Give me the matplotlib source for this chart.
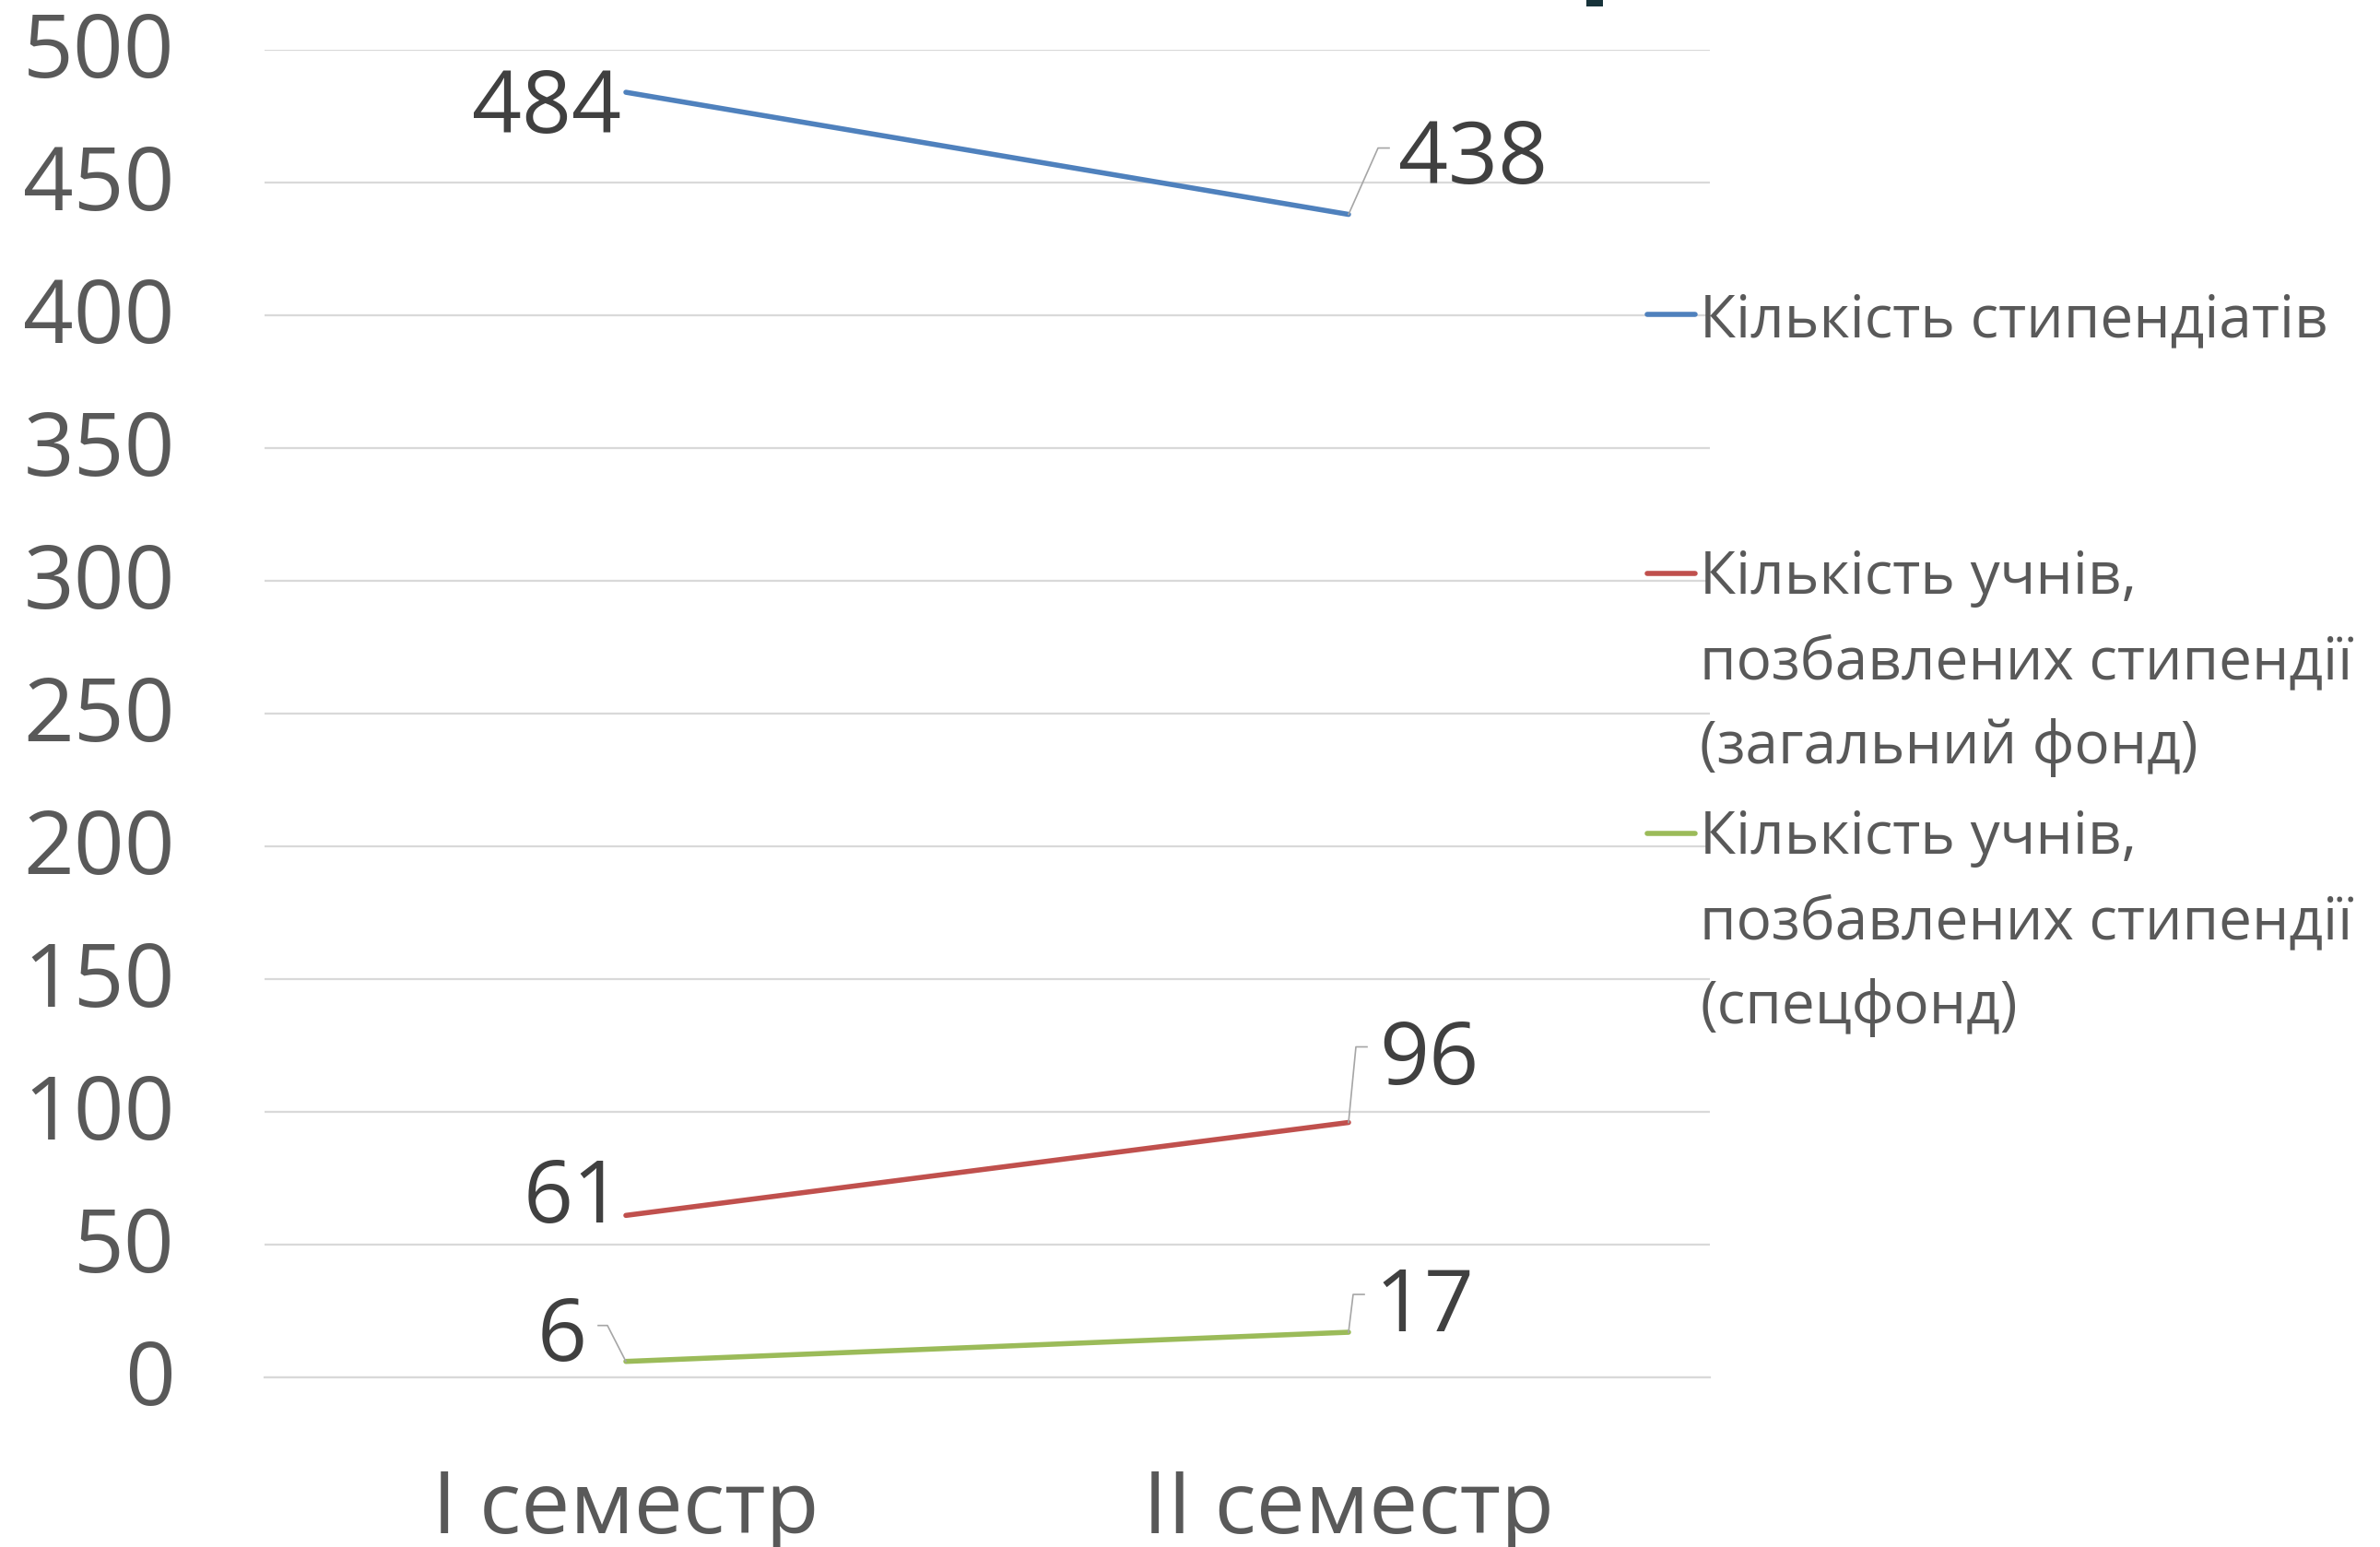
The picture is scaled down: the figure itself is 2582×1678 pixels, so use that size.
import matplotlib.pyplot as plt
from matplotlib.lines import Line2D
from matplotlib.patches import Rectangle
from matplotlib.transforms import IdentityTransform, ScaledTranslation

plt.rcParams['font.family'] = ['Open Sans', 'DejaVu Sans']

semesters = ['I семестр', 'II семестр']
series_names = ['Кількість стипендіатів',
                'Кількість учнів,\nпозбавлених стипендії\n(загальний фонд)',
                'Кількість учнів,\nпозбавлених стипендії\n(спецфонд)']
scholars = [484, 438]
deprived_general = [61, 96]
deprived_special = [6, 17]
yticks = list(range(0, 501, 50))

colors = ['#4F81BD', '#C0504D', '#9BBB59']
series = [scholars, deprived_general, deprived_special]

W, H = 2582, 1678
fig = plt.figure(figsize=(W / 100, H / 100), dpi=100)
ax = fig.add_axes([287 / W, 1 - 1494 / H, (1855 - 287) / W, (1494 - 54) / H])

x = list(range(len(semesters)))
for vals, c in zip(series, colors):
    ax.plot(x, vals, color=c, lw=4, solid_capstyle='round', clip_on=False, zorder=3)

ax.set_xlim(-0.5, 1.5)
ax.set_ylim(0, 500)
ax.set_yticks(yticks)
ax.yaxis.grid(True, color='#D9D9D9', lw=1.6)
ax.set_axisbelow(True)
for s in ['top', 'right', 'left']:
    ax.spines[s].set_visible(False)
ax.spines['bottom'].set_color('#D9D9D9')
ax.spines['bottom'].set_linewidth(1.6)
ax.tick_params(axis='y', length=0, pad=70, labelsize=69, labelcolor='#595959')
ax.tick_params(axis='x', length=0, pad=122, labelsize=68, labelcolor='#595959')
ax.set_xticks(x, semesters)
for t in ax.get_xticklabels():
    t.set_va('baseline')
up = ScaledTranslation(0, 6 / 100, fig.dpi_scale_trans)
for t in ax.get_yticklabels():
    t.set_transform(t.get_transform() + up)

# data labels: (text dx, text dy of centre, ha, leader offsets) in pixels
cap = 35
label_layout = {
    (0, 0): (-5, -9, 'right', None),
    (0, 1): (54, 69, 'left', [(0, 0), (32, 72), (44, 72)]),
    (1, 0): (-3, 27, 'right', None),
    (1, 1): (33, 77, 'left', [(0, 0), (8, 82), (20, 82)]),
    (2, 0): (-42, 36, 'right', [(0, 0), (-20, 39), (-30, 39)]),
    (2, 1): (28, 36, 'left', [(0, 0), (5, 41), (17, 41)]),
}
for si, vals in enumerate(series):
    for xi, v in zip(x, vals):
        dx, dy, ha, leader = label_layout[(si, xi)]
        ax.annotate(str(v), (xi, v), xytext=(dx, dy - cap), textcoords='offset pixels',
                    ha=ha, va='baseline', fontsize=68, color='#404040', zorder=5)
        if leader:
            px, py = ax.transData.transform((xi, v))
            fig.add_artist(Line2D([px + a for a, b in leader], [py + b for a, b in leader],
                                  transform=IdentityTransform(), color='#A6A6A6', lw=1.2))

# legend on the right
handle_y = [341, 622, 904]
line_step = 91
for name, c, hy in zip(series_names, colors, handle_y):
    fig.add_artist(Line2D([1787, 1839], [H - hy, H - hy], transform=IdentityTransform(),
                          color=c, lw=4, solid_capstyle='round'))
    last_base = hy + 24 + name.count('\n') * line_step
    fig.text(1844 / W, 1 - last_base / H, name, ha='left', va='baseline',
             fontsize=46, color='#595959', linespacing=1.57)

# bottom of the cut-off title glyph
fig.add_artist(Rectangle((1721 / W, 1 - 7 / H), 18 / W, 7 / H, transform=fig.transFigure,
                         color='#17333A', lw=0))

fig.savefig('out.png', dpi=100, facecolor='white')
